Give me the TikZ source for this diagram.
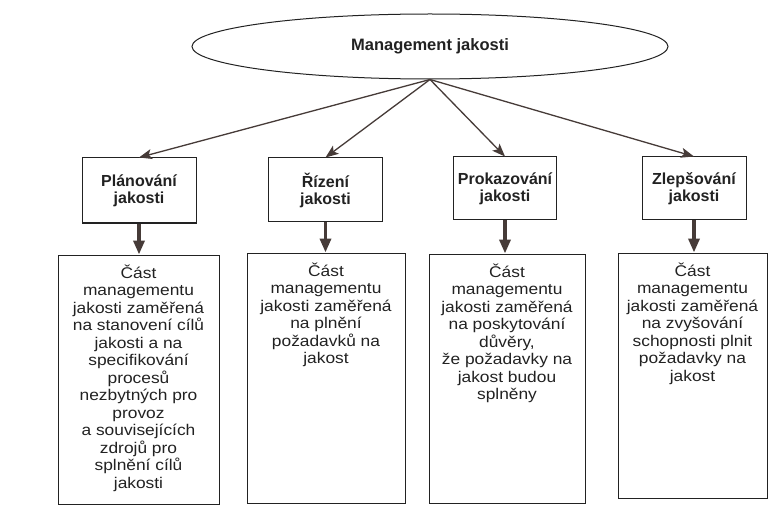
\documentclass[tikz,border=0pt]{standalone}
\usepackage{fontspec}
\setmainfont{Liberation Sans}
\newfontfamily\bodyfont[FakeStretch=1.12]{Liberation Sans}
\usetikzlibrary{shapes.geometric,arrows.meta,calc}
\definecolor{ink}{HTML}{222222}
\definecolor{arrowink}{HTML}{463B38}
\begin{document}
\begin{tikzpicture}[x=1pt,y=-1pt,
  frame/.style={draw=ink, line width=1pt, inner sep=0pt},
  ovalbox/.style={frame, ellipse, minimum width=476pt, minimum height=65pt,
    text=ink, font={\bfseries\fontsize{16.5pt}{18pt}\selectfont}},
  headbox/.style={frame, rectangle, align=center, text=ink,
    font={\bfseries\fontsize{16pt}{17pt}\selectfont}},
  descbox/.style={frame, rectangle},
  bodytext/.style={anchor=north, align=center, inner sep=0pt, text=ink,
    font={\bodyfont\fontsize{15.5pt}{17.5pt}\selectfont}},
  thinarrow/.style={draw=arrowink, line width=1.3pt,
    -{Stealth[length=13pt,width=10pt,inset=3pt]}},
  thickarrow/.style={draw=arrowink, line width=3.4pt,
    -{Triangle[length=14pt,width=11pt]}}
]
\fill[white] (0,0) rectangle (769,508);
\useasboundingbox (0,0) rectangle (769,508);

% top concept
\node[ovalbox] (mj) at (430,46.5) {Management jakosti};

% the four headings
\node[headbox, minimum width=114pt, minimum height=65pt] (h1) at (139,190.5) {Plánování\\jakosti};
\node[headbox, minimum width=114pt, minimum height=64pt] (h2) at (325.5,190) {Řízení\\jakosti};
\node[headbox, minimum width=103pt, minimum height=63pt] (h3) at (505,188.5) {Prokazování\\jakosti};
\node[headbox, minimum width=104pt, minimum height=63pt] (h4) at (694,188.5) {Zlepšování\\jakosti};

% description boxes
\node[descbox, minimum width=161pt, minimum height=249pt] (b1) at (138.5,379.5) {};
\node[descbox, minimum width=158pt, minimum height=250pt] (b2) at (326,378) {};
\node[descbox, minimum width=156pt, minimum height=249pt] (b3) at (507,378.5) {};
\node[descbox, minimum width=149pt, minimum height=245pt] (b4) at (692.5,375.5) {};

\node[bodytext] (t1) at ($(b1.north)+(0,10)$) {Část\\managementu\\jakosti zaměřená\\na stanovení cílů\\jakosti a na\\specifikování\\procesů\\nezbytných pro\\provoz\\a souvisejících\\zdrojů pro\\splnění cílů\\jakosti};
\node[bodytext] (t2) at ($(b2.north)+(0,10)$) {Část\\managementu\\jakosti zaměřená\\na plnění\\požadavků na\\jakost};
\node[bodytext] (t3) at ($(b3.north)+(0,10)$) {Část\\managementu\\jakosti zaměřená\\na poskytování\\důvěry,\\že požadavky na\\jakost budou\\splněny};
\node[bodytext] (t4) at ($(b4.north)+(0,10)$) {Část\\managementu\\jakosti zaměřená\\na zvyšování\\schopnosti plnit\\požadavky na\\jakost};

% connectors
\foreach \h in {h1,h2,h3,h4}
  \draw[thinarrow] (mj.south) -- (\h.north);
\draw[thickarrow] (h1.south) -- (h1.south |- b1.north);
\draw[thickarrow] (h2.south) -- (h2.south |- b2.north);
\draw[thickarrow] (h3.south) -- (h3.south |- b3.north);
\draw[thickarrow] (h4.south) -- (h4.south |- b4.north);
\end{tikzpicture}
\end{document}
